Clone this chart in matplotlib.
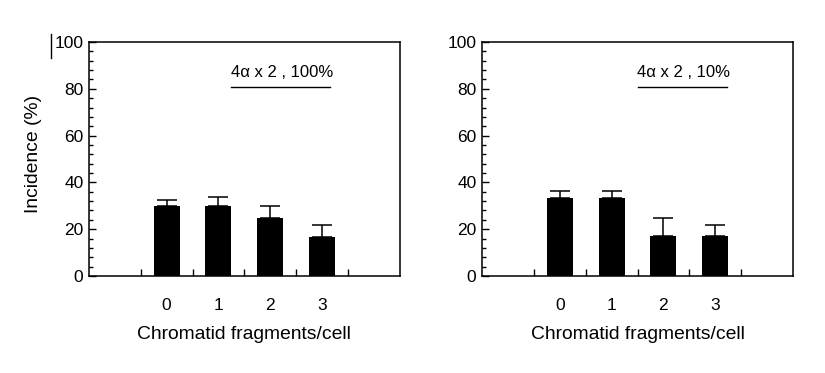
import matplotlib
matplotlib.use("Agg")
import matplotlib.pyplot as plt
from matplotlib.lines import Line2D
import numpy as np

plt.rcParams['font.family'] = ['Liberation Sans', 'DejaVu Sans']

categories = ["0", "1", "2", "3"]
left_values = [30, 30, 25, 16.7]
left_err = [2.3, 3.6, 4.9, 5.0]
right_values = [33.3, 33.3, 17.1, 17.0]
right_err = [2.9, 2.9, 7.6, 4.7]
titles = ["4\u03b1 x 2 , 100%", "4\u03b1 x 2 , 10%"]
xlabel = "Chromatid fragments/cell"
ylabel = "Incidence (%)"

W, H = 825, 373
fig = plt.figure(figsize=(W / 100, H / 100), dpi=100)

def make_axes(left_px, right_px):
    return fig.add_axes([left_px / W, (H - 276) / H, (right_px - left_px) / W, 234 / H])

axL = make_axes(89, 399.5)
axR = make_axes(482, 793)

panels = [
    (axL, left_values, left_err, titles[0], (1.24, 3.16), 1.24),
    (axR, right_values, right_err, titles[1], (1.51, 3.22), 1.49),
]

for ax, vals, errs, title, (lx0, lx1), tx in panels:
    x = np.arange(len(categories))
    ax.bar(x, vals, width=0.5, color='black', zorder=2)
    ax.errorbar(x, vals, yerr=[np.zeros(len(vals)), errs], fmt='none',
                ecolor='black', elinewidth=1.1, capsize=7.2, capthick=1.1, zorder=3)
    ax.set_xlim(-1.5, 4.5)
    ax.set_ylim(0, 100)
    ax.set_yticks(np.arange(0, 101, 20))
    ax.set_yticks(np.arange(0, 101, 4), minor=True)
    ax.set_xticks(x)
    ax.set_xticklabels(categories)
    ax.set_xticks(np.arange(-0.5, 4.0, 1.0), minor=True)
    ax.tick_params(axis='x', which='major', length=0, pad=16, labelsize=12.5)
    ax.tick_params(axis='x', which='minor', direction='in', length=5, width=1.0, bottom=True)
    ax.tick_params(axis='y', which='major', direction='in', length=5, width=1.0, pad=4, labelsize=12.5)
    ax.tick_params(axis='y', which='minor', direction='in', length=2.9, width=1.0)
    for s in ax.spines.values():
        s.set_linewidth(1.1)
    ax.set_xlabel(xlabel, fontsize=13.9)
    ax.xaxis.set_label_coords(0.5, -0.248)
    ax.xaxis.label.set_va('center')
    ax.text(tx, 86.9, title, fontsize=12, ha='left', va='center')
    ax.plot([lx0, lx1], [80.6, 80.6], color='black', linewidth=1.0)

axL.set_ylabel(ylabel, fontsize=13.9)
axL.yaxis.set_label_coords(-0.18, 0.52)
axL.yaxis.label.set_va('center')

# small vertical stroke left of the top tick label in the left panel
fig.add_artist(Line2D([51 / W, 51 / W], [(H - 34) / H, (H - 58) / H],
                      color='black', linewidth=1.0))

fig.savefig("out.png", dpi=100)
